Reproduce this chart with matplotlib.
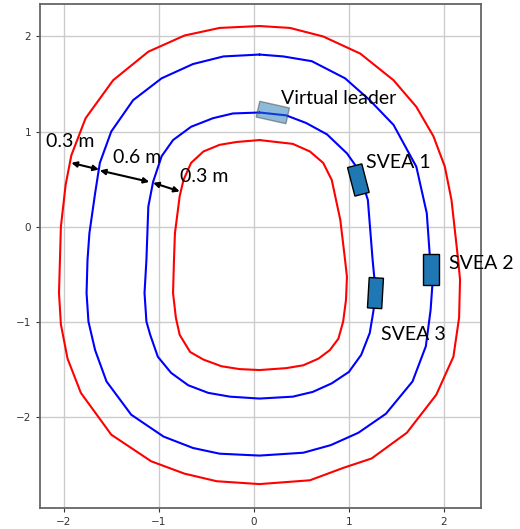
import numpy as np
import matplotlib.pyplot as plt
from matplotlib.patches import Rectangle

# Track boundaries (red) and lanes (blue), vertices
outer_red_x = [0.06, -0.36, -0.73, -1.11, -1.48, -1.77, -1.92, -1.98, -2.03, -2.05, -2.03, -1.96, -1.82,
               -1.50, -1.08, -0.73, -0.39, 0.06, 0.59, 0.94, 1.24, 1.61, 1.92, 2.10, 2.16, 2.17, 2.15,
               2.08, 2.01, 1.89, 1.71, 1.47, 1.12, 0.73, 0.38, 0.06]
outer_red_y = [2.11, 2.09, 2.01, 1.84, 1.54, 1.14, 0.75, 0.44, 0.00, -0.70, -1.03, -1.39, -1.75,
               -2.19, -2.47, -2.60, -2.68, -2.71, -2.67, -2.54, -2.44, -2.17, -1.77, -1.37, -0.96, -0.56, -0.35,
               0.28, 0.63, 0.95, 1.26, 1.54, 1.82, 2.00, 2.09, 2.11]

outer_blue_x = [0.06, -0.32, -0.64, -0.97, -1.27, -1.50, -1.62, -1.67, -1.73, -1.75, -1.76, -1.74, -1.67,
                -1.55, -1.29, -0.95, -0.64, -0.36, 0.06, 0.52, 0.81, 1.10, 1.39, 1.67, 1.81, 1.86, 1.88,
                1.85, 1.82, 1.71, 1.47, 1.22, 0.96, 0.61, 0.31, 0.06]
outer_blue_y = [1.81, 1.79, 1.71, 1.56, 1.33, 1.00, 0.67, 0.35, -0.07, -0.35, -0.70, -1.00, -1.30,
                -1.63, -1.98, -2.21, -2.33, -2.39, -2.41, -2.38, -2.30, -2.17, -1.97, -1.63, -1.26, -0.88, -0.60,
                -0.28, 0.14, 0.63, 1.07, 1.33, 1.56, 1.74, 1.79, 1.81]

inner_blue_x = [0.06, -0.22, -0.43, -0.66, -0.85, -0.97, -1.06, -1.11, -1.13, -1.15, -1.13, -1.09, -1.01,
                -0.87, -0.69, -0.48, -0.25, 0.06, 0.41, 0.62, 0.82, 1.00, 1.13, 1.22, 1.26, 1.27,
                1.25, 1.20, 1.10, 0.98, 0.77, 0.55, 0.34, 0.06]
inner_blue_y = [1.20, 1.19, 1.14, 1.05, 0.91, 0.74, 0.47, 0.21, -0.35, -0.70, -1.00, -1.14, -1.37,
                -1.54, -1.67, -1.75, -1.79, -1.81, -1.79, -1.74, -1.65, -1.53, -1.35, -1.12, -0.88, -0.56,
                -0.35, 0.28, 0.60, 0.77, 0.97, 1.09, 1.17, 1.20]

inner_red_x = [0.06, -0.18, -0.36, -0.53, -0.66, -0.74, -0.78, -0.83, -0.84, -0.85, -0.82, -0.78, -0.67,
               -0.53, -0.34, -0.15, 0.06, 0.34, 0.52, 0.68, 0.80, 0.89, 0.94, 0.97, 0.98,
               0.96, 0.91, 0.82, 0.73, 0.59, 0.41, 0.06]
inner_red_y = [0.91, 0.89, 0.86, 0.79, 0.67, 0.49, 0.32, -0.07, -0.35, -0.70, -0.96, -1.14, -1.32,
               -1.40, -1.47, -1.50, -1.51, -1.49, -1.46, -1.39, -1.30, -1.18, -1.00, -0.77, -0.53,
               -0.35, 0.07, 0.49, 0.67, 0.79, 0.87, 0.91]

# Vehicles: name, centre, length, width, heading (deg)
car_names = ["Virtual leader", "SVEA 1", "SVEA 2", "SVEA 3"]
car_cx = [0.20, 1.10, 1.865, 1.28]
car_cy = [1.20, 0.49, -0.45, -0.70]
car_len = [0.32, 0.31, 0.33, 0.32]
car_wid = [0.17, 0.155, 0.16, 0.15]
car_heading = [-12.6, 104.5, 90.0, 86.7]

# Labels
label_x = [0.29, 1.18, 2.05, 1.34]
label_y = [1.35, 0.67, -0.39, -1.14]

# Width annotations
gap_start = [(-1.92, 0.67), (-1.62, 0.59), (-1.06, 0.46)]
gap_end = [(-1.63, 0.60), (-1.10, 0.47), (-0.78, 0.37)]
gap_text = ["0.3 m", "0.6 m", "0.3 m"]
gap_text_x = [-2.19, -1.48, -0.78]
gap_text_y = [0.89, 0.73, 0.53]

fig = plt.figure(figsize=(5.2, 5.29), dpi=100)
ax = fig.add_axes([0.0769, 0.0397, 0.848, 0.9527])

for xs, ys, c in [(outer_red_x, outer_red_y, 'red'), (outer_blue_x, outer_blue_y, 'blue'),
                  (inner_blue_x, inner_blue_y, 'blue'), (inner_red_x, inner_red_y, 'red')]:
    ax.plot(xs, ys, color=c, lw=1.5, solid_joinstyle='round', solid_capstyle='round')

for i in range(len(car_names)):
    L, W = car_len[i], car_wid[i]
    leader = i == 0
    rect = Rectangle((car_cx[i] - L / 2, car_cy[i] - W / 2), L, W, angle=car_heading[i],
                     rotation_point='center',
                     facecolor='#1f77b4', alpha=0.5 if leader else 1.0,
                     edgecolor='#444444' if leader else 'black', lw=1.0, zorder=5)
    ax.add_patch(rect)
    ax.text(label_x[i], label_y[i], car_names[i], fontsize=14, family='Lato',
            ha='left', va='center', zorder=6, clip_on=False)

for s, e in zip(gap_start, gap_end):
    ax.annotate("", xy=e, xytext=s,
                arrowprops=dict(arrowstyle='<|-|>', color='black', lw=1.5,
                                mutation_scale=8, shrinkA=0, shrinkB=0), zorder=6)
for t, x, y in zip(gap_text, gap_text_x, gap_text_y):
    ax.text(x, y, t, fontsize=14, family='Lato', ha='left', va='center', zorder=6)

ax.set_xlim(-2.25, 2.39)
ax.set_ylim(-2.96, 2.34)
ax.set_aspect('equal')
ax.set_xticks([-2, -1, 0, 1, 2])
ax.set_yticks([-2, -1, 0, 1, 2])
ax.grid(color='#cccccc', linewidth=1.0)
ax.set_axisbelow(True)
ax.tick_params(labelsize=7.5, colors='#333333', length=3)
for sp in ax.spines.values():
    sp.set_color('#666666')
    sp.set_linewidth(1.3)

plt.savefig("out.png", dpi=100)
